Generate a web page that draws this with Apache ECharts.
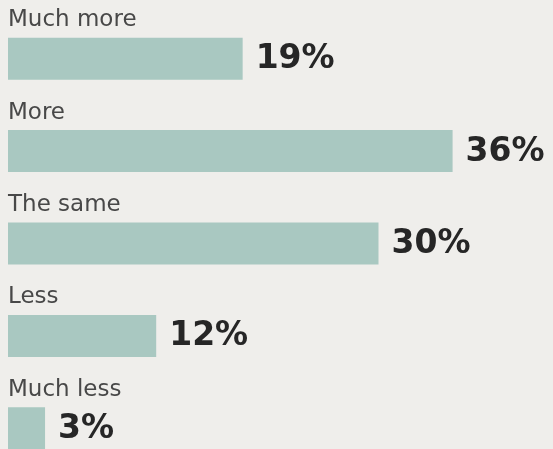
<!DOCTYPE html>
<html>
<head>
<meta charset="utf-8">
<style>
  html, body { margin: 0; padding: 0; background: #efeeeb; }
  #chart { width: 553px; height: 449px; }
</style>
<script src="https://cdn.jsdelivr.net/npm/echarts@6/dist/echarts.min.js"></script>
</head>
<body>
<div id="chart"></div>
<script>
const categories = ["Much more", "More", "The same", "Less", "Much less"];
const values = [19, 36, 30, 12, 3];
const valueLabels = ["19%", "36%", "30%", "12%", "3%"];

const chart = echarts.init(document.getElementById('chart'), null, { renderer: 'canvas' });
chart.setOption({
  backgroundColor: '#efeeeb',
  animation: false,
  grid: { left: 8, top: 58.7, width: 543.4, height: 369.6, containLabel: false },
  xAxis: { type: 'value', min: 0, max: 44, show: false },
  yAxis: { type: 'category', data: categories, inverse: true, show: false, boundaryGap: false },
  series: [
    {
      type: 'bar',
      data: values,
      barWidth: 42,
      itemStyle: { color: '#a9c8c1' },
      label: {
        show: true,
        position: [0, -6],
        align: 'left',
        verticalAlign: 'bottom',
        formatter: p => categories[p.dataIndex],
        fontFamily: 'DejaVu Sans',
        fontSize: 23,
        color: '#484848'
      },
      silent: true
    },
    {
      type: 'bar',
      data: values,
      barWidth: 42,
      barGap: '-100%',
      itemStyle: { color: 'rgba(0,0,0,0)' },
      label: {
        show: true,
        position: 'right',
        distance: 13,
        offset: [0, 1],
        formatter: p => valueLabels[p.dataIndex],
        fontFamily: 'DejaVu Sans',
        fontWeight: 'bold',
        fontSize: 33,
        color: '#262626'
      },
      silent: true
    }
  ]
});
</script>
</body>
</html>
